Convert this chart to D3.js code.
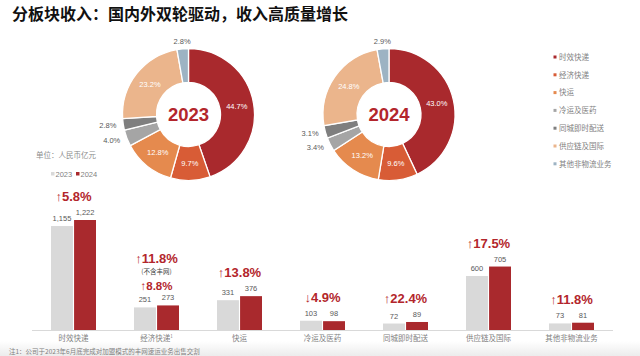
<!DOCTYPE html>
<html><head><meta charset="utf-8">
<script src="https://cdn.jsdelivr.net/npm/d3@7/dist/d3.min.js"></script>
<style>
html,body{margin:0;padding:0;background:#fff;}
svg{display:block;font-family:"Liberation Sans","Noto Sans CJK SC",sans-serif;}
.cjk{font-family:"Noto Sans CJK SC","Liberation Sans",sans-serif;}
</style></head>
<body>
<svg id="chart" width="640" height="356"></svg>
<script>
const categories = ["时效快递","经济快递","快运","冷运及医药","同城即时配送","供应链及国际","其他非物流业务"];
const revenue2023 = [1155, 251, 331, 103, 72, 600, 73];
const revenue2024 = [1222, 273, 376, 98, 89, 705, 81];
const share2023 = [44.7, 9.7, 12.8, 4.0, 2.8, 23.2, 2.8];
const share2024 = [43.0, 9.6, 13.2, 3.4, 3.1, 24.8, 2.9];
const growth = ["↑5.8%","↑8.8%","↑13.8%","↓4.9%","↑22.4%","↑17.5%","↑11.8%"];
const extraGrowth = {cat:"经济快递", text:"↑11.8%", note:"(不含丰网)"};
const years = ["2023","2024"];
const colors = ["#A9292D","#D85C36","#E58A4E","#A5A5A5","#7F7F7F","#EBB58C","#9DB3C3"];
const barColors = ["#D9D9D9","#A9292D"];

const svg = d3.select("#chart");
const defs = svg.append("defs");
const grad = defs.append("linearGradient").attr("id","bot").attr("x1",0).attr("y1",0).attr("x2",0).attr("y2",1);
grad.append("stop").attr("offset","0").attr("stop-color","#ffffff");
grad.append("stop").attr("offset","1").attr("stop-color","#ececec");
svg.append("rect").attr("x",0).attr("y",341).attr("width",640).attr("height",15).attr("fill","url(#bot)");

// Title
svg.append("text").attr("class","cjk").attr("x",12).attr("y",20)
  .attr("font-size",16).attr("font-weight","bold").attr("fill","#111")
  .text("分板块收入：国内外双轮驱动，收入高质量增长");

// Donuts
function donut(cx, cy, shares, year){
  const g = svg.append("g").attr("transform",`translate(${cx},${cy})`);
  const pie = d3.pie().sort(null).value(d=>d)(shares);
  const rOut = 66, rIn = 32;
  const arc = d3.arc().innerRadius(rIn).outerRadius(rOut);
  g.selectAll("path").data(pie).join("path")
    .attr("d",arc).attr("fill",(d,i)=>colors[i])
    .attr("stroke","#fff").attr("stroke-width",1.3);
  pie.forEach((d,i)=>{
    const a = (d.startAngle+d.endAngle)/2;
    if (d.data >= 5) {
      const [x,y] = arc.centroid(d);
      g.append("text").attr("x",x).attr("y",y+2.5).attr("text-anchor","middle")
        .attr("font-size",7.5).attr("fill","#fff").text(d.data.toFixed(1)+"%");
    } else {
      const r = 73;
      const x = Math.sin(a)*r, y = -Math.cos(a)*r;
      const anchor = Math.sin(a) < -0.5 ? "end" : (Math.sin(a) > 0.5 ? "start" : "middle");
      g.append("text").attr("x",x).attr("y",y+2.5).attr("text-anchor",anchor)
        .attr("font-size",7.5).attr("fill","#595959").text(d.data.toFixed(1)+"%");
    }
  });
  g.append("text").attr("x",0).attr("y",6.5).attr("text-anchor","middle")
    .attr("font-size",18.5).attr("font-weight","bold").attr("fill","#B3262C").text(year);
}
donut(188.5, 114.5, share2023, years[0]);
donut(389, 114.5, share2024, years[1]);

// Legend (right)
const leg = svg.append("g");
categories.forEach((c,i)=>{
  const y = 57 + i*17.8;
  leg.append("rect").attr("x",553.5).attr("y",y-1.5).attr("width",3).attr("height",3).attr("fill",colors[i]);
  leg.append("text").attr("class","cjk").attr("x",559).attr("y",y+2.8).attr("font-size",7.5).attr("fill","#7F7F7F").text(c);
});

// Bar chart
svg.append("text").attr("class","cjk").attr("x",36).attr("y",158).attr("font-size",7.5).attr("fill","#8C8C8C").text("单位：人民币亿元");
const bl = svg.append("g");
years.forEach((yr,i)=>{
  const x0 = 51 + i*25;
  bl.append("rect").attr("x",x0).attr("y",172).attr("width",3.5).attr("height",3.5).attr("fill",barColors[i]);
  bl.append("text").attr("x",x0+4.5).attr("y",176.5).attr("font-size",7.5).attr("fill","#7F7F7F").text(yr);
});

const x = d3.scaleBand().domain(categories).range([32,613]).paddingInner(0).paddingOuter(0);
const x1 = d3.scaleBand().domain(years).range([0,45]).paddingInner(0.05);
const y = d3.scaleLinear().domain([0,1222]).range([330,220]);
const fmt = d3.format(",");

const groups = svg.append("g").selectAll("g").data(categories).join("g")
  .attr("transform",d=>`translate(${x(d)+x.bandwidth()/2-22.5},0)`);
groups.each(function(c,i){
  const g = d3.select(this);
  const vals = [revenue2023[i], revenue2024[i]];
  vals.forEach((v,j)=>{
    g.append("rect").attr("x",x1(years[j])).attr("y",y(v)).attr("width",x1.bandwidth())
      .attr("height",y(0)-y(v)).attr("fill",barColors[j]);
    g.append("text").attr("x",x1(years[j])+x1.bandwidth()/2).attr("y",y(v)-5)
      .attr("text-anchor","middle").attr("font-size",7.5).attr("fill","#595959").text(fmt(v));
  });
  const top = y(d3.max(vals));
  const isExtra = c === extraGrowth.cat;
  const gy = top - (isExtra ? 15 : 19);
  const fs = isExtra ? 11.5 : 13;
  const t = g.append("text").attr("x",22.5).attr("y",gy).attr("text-anchor","middle").attr("fill","#B3262C");
  t.append("tspan").attr("font-size",fs).attr("font-weight","normal").text(growth[i].slice(0,1));
  t.append("tspan").attr("font-size",fs).attr("font-weight","bold").text(growth[i].slice(1));
  if (isExtra) {
    g.append("text").attr("class","cjk").attr("x",22.5).attr("y",gy-16).attr("text-anchor","middle")
      .attr("font-size",6.5).attr("fill","#404040").text(extraGrowth.note);
    const t2 = g.append("text").attr("x",22.5).attr("y",gy-27).attr("text-anchor","middle").attr("fill","#B3262C");
    t2.append("tspan").attr("font-size",13).text(extraGrowth.text.slice(0,1));
    t2.append("tspan").attr("font-size",13).attr("font-weight","bold").text(extraGrowth.text.slice(1));
  }
});

// axis line & labels
svg.append("line").attr("x1",32).attr("x2",613).attr("y1",330.5).attr("y2",330.5).attr("stroke","#D9D9D9").attr("stroke-width",1);
categories.forEach((c,i)=>{
  const t = svg.append("text").attr("class","cjk").attr("x",x(c)+x.bandwidth()/2).attr("y",341)
    .attr("text-anchor","middle").attr("font-size",7.5).attr("fill","#7F7F7F").text(c);
  if (c === "经济快递") {
    t.append("tspan").attr("font-size",4.5).attr("dy",-3).text("1");
  }
});

svg.append("text").attr("class","cjk").attr("x",9).attr("y",354).attr("font-size",6.5).attr("fill","#7F7F7F")
  .text("注1：公司于2023年6月底完成对加盟模式的丰网速运业务出售交割");
</script>
</body></html>
